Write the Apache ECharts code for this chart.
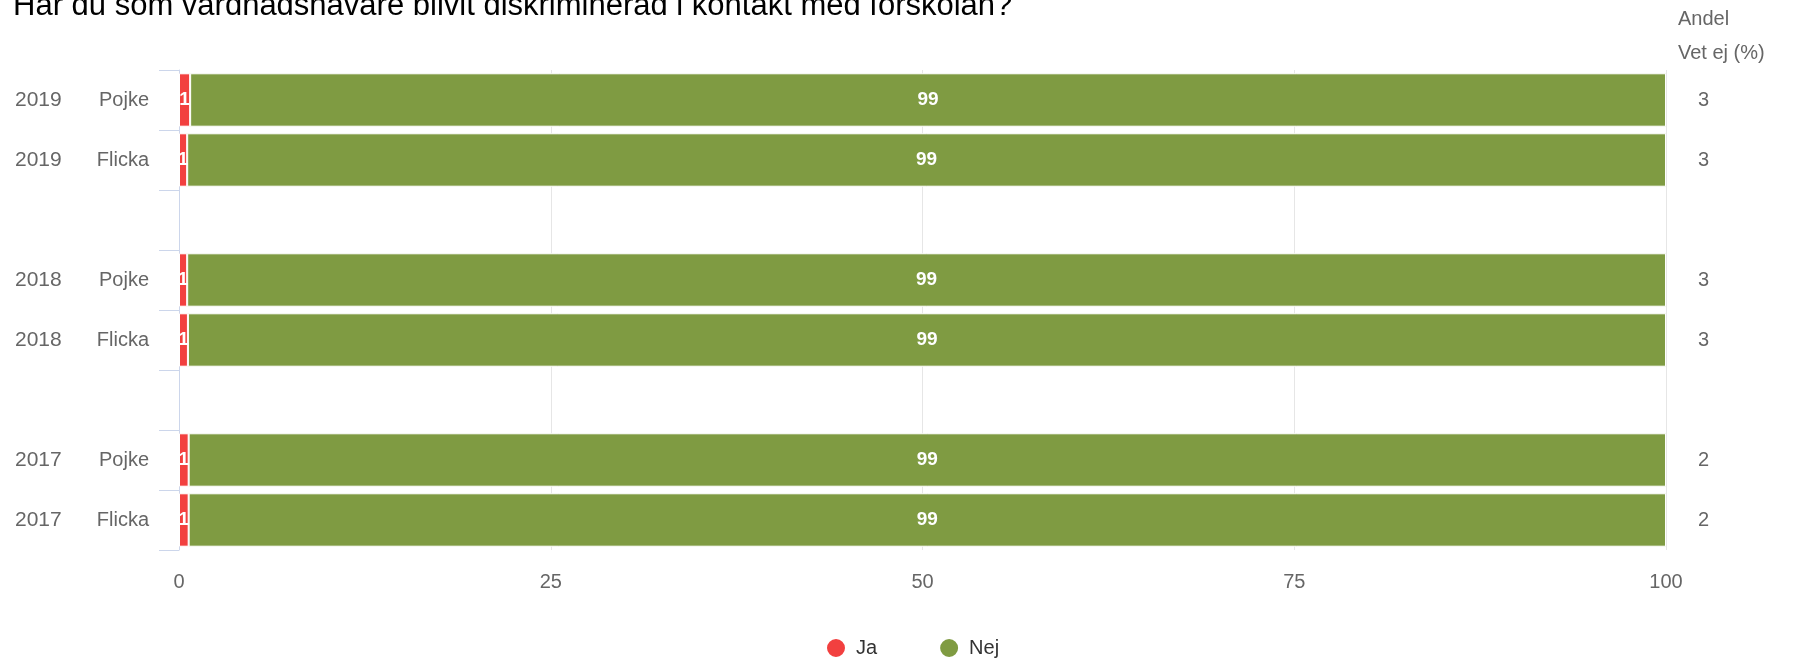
<!DOCTYPE html>
<html>
<head>
<meta charset="utf-8">
<script src="https://cdn.jsdelivr.net/npm/echarts@6/dist/echarts.min.js"></script>
<style>
html,body{margin:0;padding:0;background:#fff;}
#chart{width:1800px;height:663px;}
</style>
</head>
<body>
<div id="chart"></div>
<script>
const titleText = 'Har du som vårdnadshavare blivit diskriminerad i kontakt med förskolan?';
const years   = ['2019', '2019', '', '2018', '2018', '', '2017', '2017'];
const genders = ['Pojke', 'Flicka', '', 'Pojke', 'Flicka', '', 'Pojke', 'Flicka'];
const ja      = [0.75, 0.55, null, 0.55, 0.6, null, 0.65, 0.65];
const nej     = [99.25, 99.45, null, 99.45, 99.4, null, 99.35, 99.35];
const vetEj   = ['3', '3', '', '3', '3', '', '2', '2'];
const xTicks  = [0, 25, 50, 75, 100];
const rightHeader = ['Andel', 'Vet ej (%)'];

const cats = years.map((y, i) => i);
const FONT = '"Liberation Sans", Arial, Helvetica, sans-serif';

const chart = echarts.init(document.getElementById('chart'));
chart.setOption({
  animation: false,
  backgroundColor: '#fff',
  title: {
    text: titleText,
    left: 8,
    top: -14,
    textStyle: { fontFamily: FONT, fontSize: 31, fontWeight: 'normal', color: '#000' }
  },
  graphic: [{
    type: 'text',
    left: 1678,
    top: 2,
    style: {
      text: rightHeader.join('\n'),
      font: '20px ' + FONT,
      fill: '#666',
      lineHeight: 34
    }
  }],
  legend: {
    data: ['Ja', 'Nej'],
    icon: 'circle',
    itemWidth: 30,
    itemHeight: 20,
    itemGap: 61,
    left: 820,
    top: 632,
    textStyle: { fontFamily: FONT, fontSize: 20, color: '#333' }
  },
  grid: { left: 179, right: 134, top: 70, bottom: 113, containLabel: false },
  xAxis: {
    type: 'value',
    min: xTicks[0],
    max: xTicks[xTicks.length - 1],
    interval: 25,
    axisLine: { show: false },
    axisTick: { show: false },
    splitLine: { lineStyle: { color: '#e6e6e6', width: 1 } },
    axisLabel: { margin: 22, color: '#666', fontFamily: FONT, fontSize: 20 }
  },
  yAxis: [{
    type: 'category',
    data: cats,
    inverse: true,
    axisLine: { show: true, lineStyle: { color: '#ccd6eb' } },
    axisTick: { show: true, length: 20, lineStyle: { color: '#ccd6eb' } },
    axisLabel: {
      margin: 30,
      formatter: (v) => {
        const i = Number(v);
        if (!years[i]) return '';
        return '{y|' + years[i] + '}{g|' + genders[i] + '}';
      },
      rich: {
        y: { width: 85, align: 'left', color: '#666', fontFamily: FONT, fontSize: 21 },
        g: { width: 49, align: 'right', color: '#666', fontFamily: FONT, fontSize: 20 }
      }
    },
    splitLine: { show: false }
  }, {
    type: 'category',
    data: vetEj,
    inverse: true,
    position: 'right',
    axisLine: { show: false },
    axisTick: { show: false },
    axisLabel: { margin: 32, align: 'left', color: '#666', fontFamily: FONT, fontSize: 20 },
    splitLine: { show: false }
  }],
  series: [{
    name: 'Ja',
    type: 'bar',
    stack: 'total',
    yAxisIndex: 0,
    data: ja,
    barCategoryGap: '11%',
    itemStyle: { color: '#f2403f', borderColor: '#fff', borderWidth: 1 },
    label: {
      show: true, position: 'inside',
      formatter: (p) => p.value == null ? '' : String(Math.round(p.value)),
      color: '#fff', fontWeight: 'bold', fontFamily: FONT, fontSize: 19
    }
  }, {
    name: 'Nej',
    type: 'bar',
    stack: 'total',
    yAxisIndex: 0,
    data: nej,
    barCategoryGap: '11%',
    itemStyle: { color: '#7f9b42', borderColor: '#fff', borderWidth: 1 },
    label: {
      show: true, position: 'inside',
      formatter: (p) => p.value == null ? '' : String(Math.round(p.value)),
      color: '#fff', fontWeight: 'bold', fontFamily: FONT, fontSize: 19
    }
  }]
});
</script>
</body>
</html>
